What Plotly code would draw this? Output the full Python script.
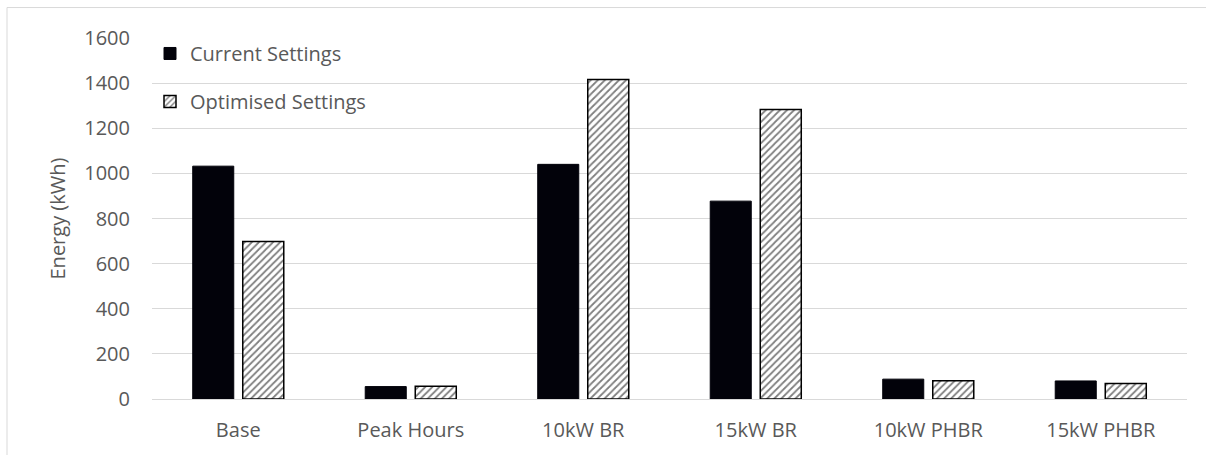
import plotly.graph_objects as go

categories = ["Base", "Peak Hours", "10kW BR", "15kW BR", "10kW PHBR", "15kW PHBR"]
current_settings = [1032, 55, 1040, 877, 88, 80]
optimised_settings = [698, 57, 1416, 1283, 81, 69]
y_ticks = [0, 200, 400, 600, 800, 1000, 1200, 1400, 1600]

FONT = "Open Sans"
GREY = "#595959"
FS = 20

L, R, T, B = 152, 19, 37.5, 56
W, H = 1206, 455
pw, ph = W - L - R, H - T - B

def px_x(x):
    return (x - L) / pw

def px_y(y):
    return (H - B - y) / ph

fig = go.Figure()
fig.add_trace(go.Bar(
    x=categories, y=current_settings, name="Current Settings",
    marker=dict(color="#02020a", line=dict(color="#02020a", width=1)),
    legend="legend",
))
fig.add_trace(go.Bar(
    x=categories, y=optimised_settings, name="Optimised Settings",
    marker=dict(color="white", line=dict(color="black", width=1.5),
                pattern=dict(shape="/", fgcolor="black", bgcolor="white",
                             size=5, solidity=0.35)),
    legend="legend2",
))

fig.update_layout(
    width=W, height=H,
    margin=dict(l=L, r=R, t=T, b=B),
    paper_bgcolor="white", plot_bgcolor="white",
    barmode="group", bargap=0.42, bargroupgap=0.18,
    showlegend=True,
    font=dict(family=FONT, size=FS, color=GREY),
    legend=dict(x=px_x(150), y=px_y(53), xanchor="left", yanchor="middle",
                bgcolor="rgba(0,0,0,0)", font=dict(size=FS, color=GREY),
                itemwidth=30),
    legend2=dict(x=px_x(150), y=px_y(101), xanchor="left", yanchor="middle",
                 bgcolor="rgba(0,0,0,0)", font=dict(size=FS, color=GREY),
                 itemwidth=30),
    xaxis=dict(showgrid=False, showline=True, linecolor="#d9d9d9", linewidth=1,
               ticks="", ticklabelstandoff=13,
               tickfont=dict(size=FS, color=GREY)),
    yaxis=dict(range=[0, 1600], tickvals=y_ticks, showgrid=True,
               gridcolor="#d9d9d9", gridwidth=1, zeroline=False,
               ticks="", ticklabelstandoff=21,
               tickfont=dict(size=FS, color=GREY)),
    annotations=[
        dict(text="Energy (kWh)", xref="paper", yref="paper",
             x=px_x(57), y=0.5, textangle=-90, showarrow=False,
             xanchor="center", yanchor="middle",
             font=dict(size=FS, color=GREY)),
    ],
    shapes=[
        dict(type="line", xref="paper", yref="paper",
             x0=px_x(7), x1=px_x(1210), y0=px_y(7), y1=px_y(7),
             line=dict(color="#d9d9d9", width=1)),
        dict(type="line", xref="paper", yref="paper",
             x0=px_x(7), x1=px_x(7), y0=px_y(7), y1=px_y(460),
             line=dict(color="#d9d9d9", width=1)),
    ],
)

fig.write_html(
    "out.html",
    config={"displayModeBar": False},
    post_script="document.body.style.margin='0';document.body.style.overflow='hidden';",
)
